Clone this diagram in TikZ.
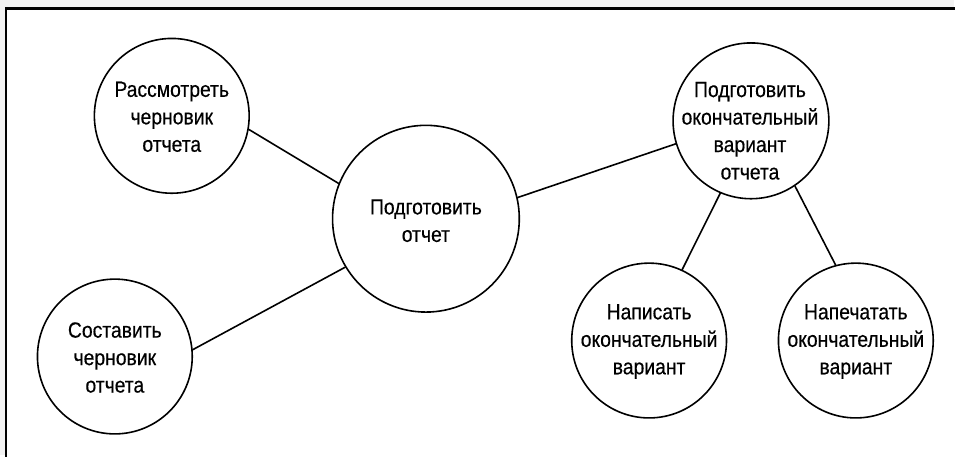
\documentclass[tikz,border=0pt]{standalone}
\usepackage{fontspec}
\setmainfont{Liberation Sans}
\newfontfamily\labelfont[FakeStretch=0.88,FakeBold=0.4]{Liberation Sans}
\begin{document}
\begin{tikzpicture}[x=1pt,y=-1pt,
  task/.style={circle,draw=black,line width=1.6pt,fill=white,minimum size=#1,inner sep=0pt},
  task/.default=155pt,
  lbl/.style={align=center,inner sep=0pt,font=\labelfont\fontsize{22}{27.5}\selectfont},
  link/.style={line width=1.6pt,line cap=round}]
% page background and frame
\fill[gray!10] (0,0) rectangle (955,456);
\fill[white] (5,7) rectangle (955,456);
\draw[line width=2.6pt,line cap=rect] (6,456) -- (6,8.5) -- (955,8.5);
% tasks
\node[task] (review) at (172,116) {};
\node[lbl] at (172,117) {Рассмотреть\\черновик\\отчета};
\node[task] (draft) at (115,357) {};
\node[lbl] at (115,358) {Составить\\черновик\\отчета};
\node[task=187pt] (report) at (426.5,219) {};
\node[lbl] at (426.5,221) {Подготовить\\отчет};
\node[task=156pt] (final) at (752,121) {};
\node[lbl] at (751,131) {Подготовить\\окончательный\\вариант\\отчета};
\node[task] (write) at (650,341) {};
\node[lbl] at (650,342) {Написать\\окончательный\\вариант};
\node[task] (print) at (857,341) {};
\node[lbl] at (857,342) {Напечатать\\окончательный\\вариант};
% connectors
\draw[link] (review.-10) -- (report.158);
\draw[link] (draft.5) -- (report.211);
\draw[link] (report.13) -- (final.197);
\draw[link] (final.247) -- (write.65);
\draw[link] (final.304) -- (print.105);
\end{tikzpicture}
\end{document}
